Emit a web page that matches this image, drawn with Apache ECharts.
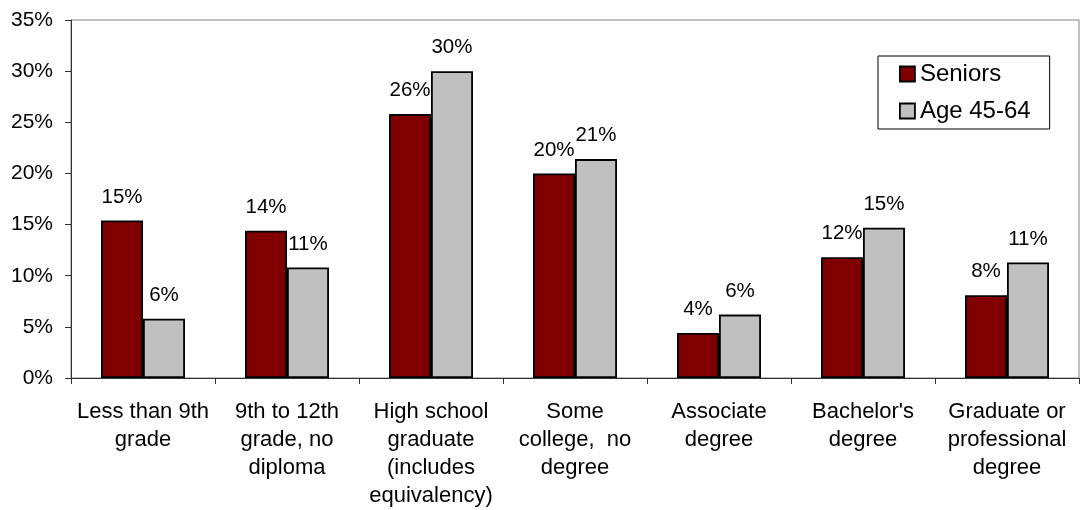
<!DOCTYPE html>
<html>
<head>
<meta charset="utf-8">
<script src="https://cdn.jsdelivr.net/npm/echarts@6/dist/echarts.min.js"></script>
<style>
  html, body { margin: 0; padding: 0; background: #fff; }
  #chart { width: 1080px; height: 510px; }
</style>
</head>
<body>
<div id="chart"></div>
<script>
// Educational attainment, seniors vs. people aged 45-64 (percent of group)
const categories = [
  "Less than 9th\ngrade",
  "9th to 12th\ngrade, no\ndiploma",
  "High school\ngraduate\n(includes\nequivalency)",
  "Some\ncollege,  no\ndegree",
  "Associate\ndegree",
  "Bachelor's\ndegree",
  "Graduate or\nprofessional\ndegree"
];
const seniors = [15.4, 14.4, 25.8, 20.0, 4.4, 11.8, 8.1];
const age45to64 = [5.8, 10.8, 30.0, 21.4, 6.2, 14.7, 11.3];
const yTicks = { min: 0, max: 35, step: 5 };

const FONT = "Liberation Sans, Arial, sans-serif";

const chart = echarts.init(document.getElementById('chart'), null, { renderer: 'canvas' });

const valueLabel = {
  show: true,
  position: 'top',
  distance: 13,
  color: '#000',
  fontFamily: FONT,
  fontSize: 20.5,
  formatter: p => Math.round(p.value) + '%'
};

chart.setOption({
  backgroundColor: '#fff',
  animation: false,
  grid: {
    left: 71, right: 1, top: 20, bottom: 132,
    show: true, borderColor: '#808080', borderWidth: 1, backgroundColor: 'transparent'
  },
  legend: {
    orient: 'vertical',
    left: 878, top: 56,
    padding: [6, 19, 6, 21],
    itemWidth: 15, itemHeight: 15, itemGap: 13,
    borderColor: '#000', borderWidth: 1,
    icon: 'rect',
    itemStyle: { borderColor: '#000', borderWidth: 1.8 },
    textStyle: { fontFamily: FONT, fontSize: 24, color: '#000' },
    data: ['Seniors', 'Age 45-64']
  },
  xAxis: {
    type: 'category',
    data: categories,
    axisLine: { lineStyle: { color: '#333', width: 1 } },
    axisTick: { show: true, length: 6, alignWithLabel: false, lineStyle: { color: '#333' } },
    axisLabel: {
      interval: 0, margin: 20, color: '#000',
      fontFamily: FONT, fontSize: 22, lineHeight: 28, align: 'center', verticalAlign: 'top'
    }
  },
  yAxis: {
    type: 'value',
    min: yTicks.min, max: yTicks.max, interval: yTicks.step,
    axisLine: { show: true, lineStyle: { color: '#333', width: 1 } },
    axisTick: { show: true, length: 6, lineStyle: { color: '#333' } },
    splitLine: { show: false },
    axisLabel: {
      margin: 18, color: '#000', fontFamily: FONT, fontSize: 21,
      formatter: '{value}%'
    }
  },
  series: [
    {
      name: 'Seniors', type: 'bar', data: seniors,
      barGap: '0%', barCategoryGap: '41.7%',
      itemStyle: { color: '#800000', borderColor: '#000', borderWidth: 1.8 },
      label: valueLabel
    },
    {
      name: 'Age 45-64', type: 'bar', data: age45to64,
      barGap: '0%', barCategoryGap: '41.7%',
      itemStyle: { color: '#C0C0C0', borderColor: '#000', borderWidth: 1.8 },
      label: valueLabel
    }
  ]
});
</script>
</body>
</html>
